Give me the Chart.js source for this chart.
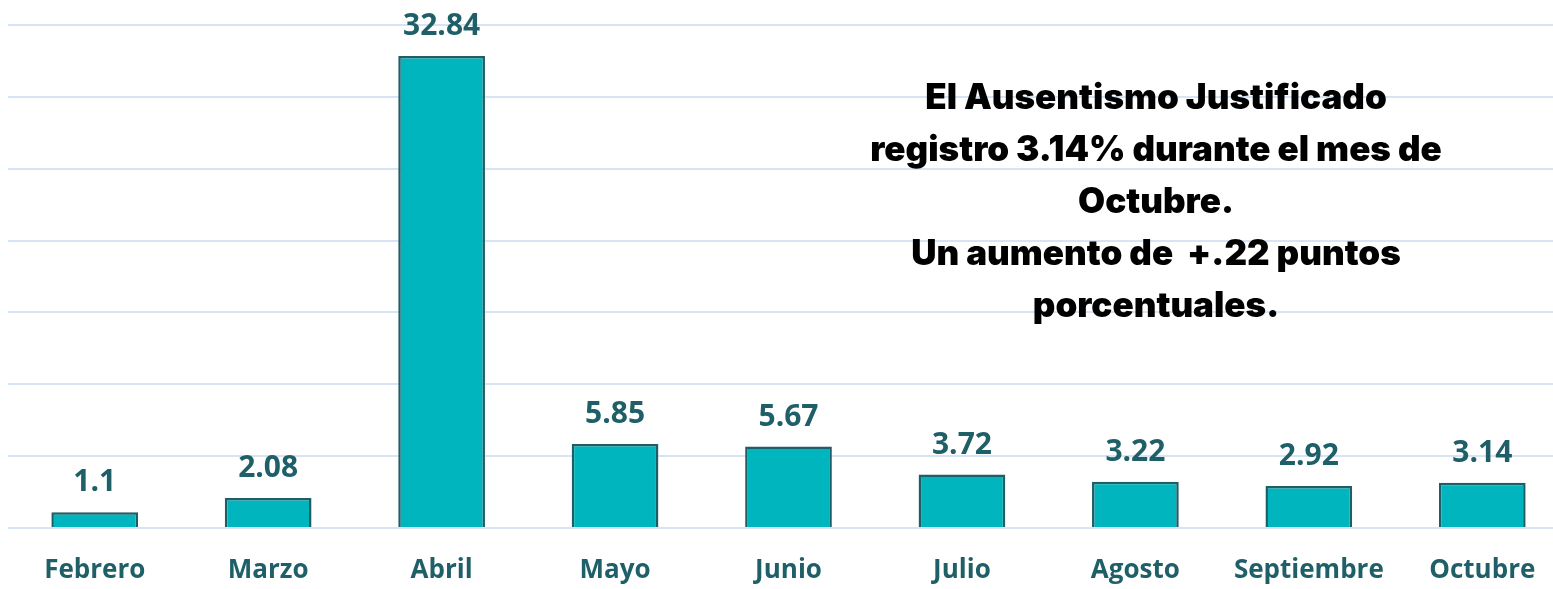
<!DOCTYPE html>
<html>
<head>
<meta charset="utf-8">
<script src="https://cdn.jsdelivr.net/npm/chart.js@4.4.1/dist/chart.umd.min.js"></script>
<style>
  html, body { margin: 0; padding: 0; background: #fff; overflow: hidden; }
  #wrap { position: relative; width: 1570px; height: 589px; }
</style>
</head>
<body>
<div id="wrap"><canvas id="chart"></canvas></div>
<script>
// Datos del gráfico
const meses = ['Febrero', 'Marzo', 'Abril', 'Mayo', 'Junio', 'Julio', 'Agosto', 'Septiembre', 'Octubre'];
const ausentismo = [1.1, 2.08, 32.84, 5.85, 5.67, 3.72, 3.22, 2.92, 3.14];
const notaLineas = [
    'El Ausentismo Justificado',
    'registro 3.14% durante el mes de',
    'Octubre.',
    'Un aumento de  +.22 puntos',
    'porcentuales.'
];

const colorTexto = '#1f5f68';

// Etiquetas de valor encima de cada barra
const valoresPlugin = {
    id: 'valores',
    afterDatasetsDraw(chart) {
        const ctx = chart.ctx;
        const meta = chart.getDatasetMeta(0);
        ctx.save();
        ctx.font = 'bold 30px "Open Sans", sans-serif';
        ctx.fillStyle = colorTexto;
        ctx.textAlign = 'center';
        ctx.textBaseline = 'alphabetic';
        meta.data.forEach((bar, i) => {
            ctx.fillText(String(ausentismo[i]), bar.x, bar.y - 21);
        });
        ctx.restore();
    }
};

// Texto de nota a la derecha
const notaPlugin = {
    id: 'nota',
    afterDraw(chart) {
        const ctx = chart.ctx;
        ctx.save();
        ctx.font = '900 35px Inter, sans-serif';
        ctx.fillStyle = '#000';
        ctx.textAlign = 'center';
        ctx.textBaseline = 'middle';
        notaLineas.forEach((linea, i) => {
            ctx.fillText(linea, 1156, 98 + i * 52);
        });
        ctx.restore();
    }
};

new Chart(document.getElementById('chart'), {
    type: 'bar',
    data: {
        labels: meses,
        datasets: [{
            data: ausentismo,
            backgroundColor: '#00b5bd',
            borderColor: '#1e5e66',
            borderWidth: 2.5,
            categoryPercentage: 1,
            barPercentage: 0.5
        }]
    },
    options: {
        responsive: true,
        maintainAspectRatio: false,
        animation: false,
        layout: { padding: { top: 25, left: 8, right: 1, bottom: 0 } },
        plugins: { legend: { display: false }, tooltip: { enabled: false } },
        scales: {
            x: {
                grid: { display: false, drawTicks: false },
                border: { display: false },
                ticks: {
                    color: colorTexto,
                    font: { family: '"Open Sans", sans-serif', size: 26, weight: 'bold' },
                    padding: 27,
                    maxRotation: 0
                },
                afterFit(scale) { scale.height = 61; }
            },
            y: {
                min: 0,
                max: 35,
                grid: { color: '#d7e4f4', lineWidth: 2, drawTicks: false },
                border: { display: false },
                ticks: { display: false, stepSize: 5 }
            }
        }
    },
    plugins: [valoresPlugin, notaPlugin]
});
</script>
</body>
</html>
